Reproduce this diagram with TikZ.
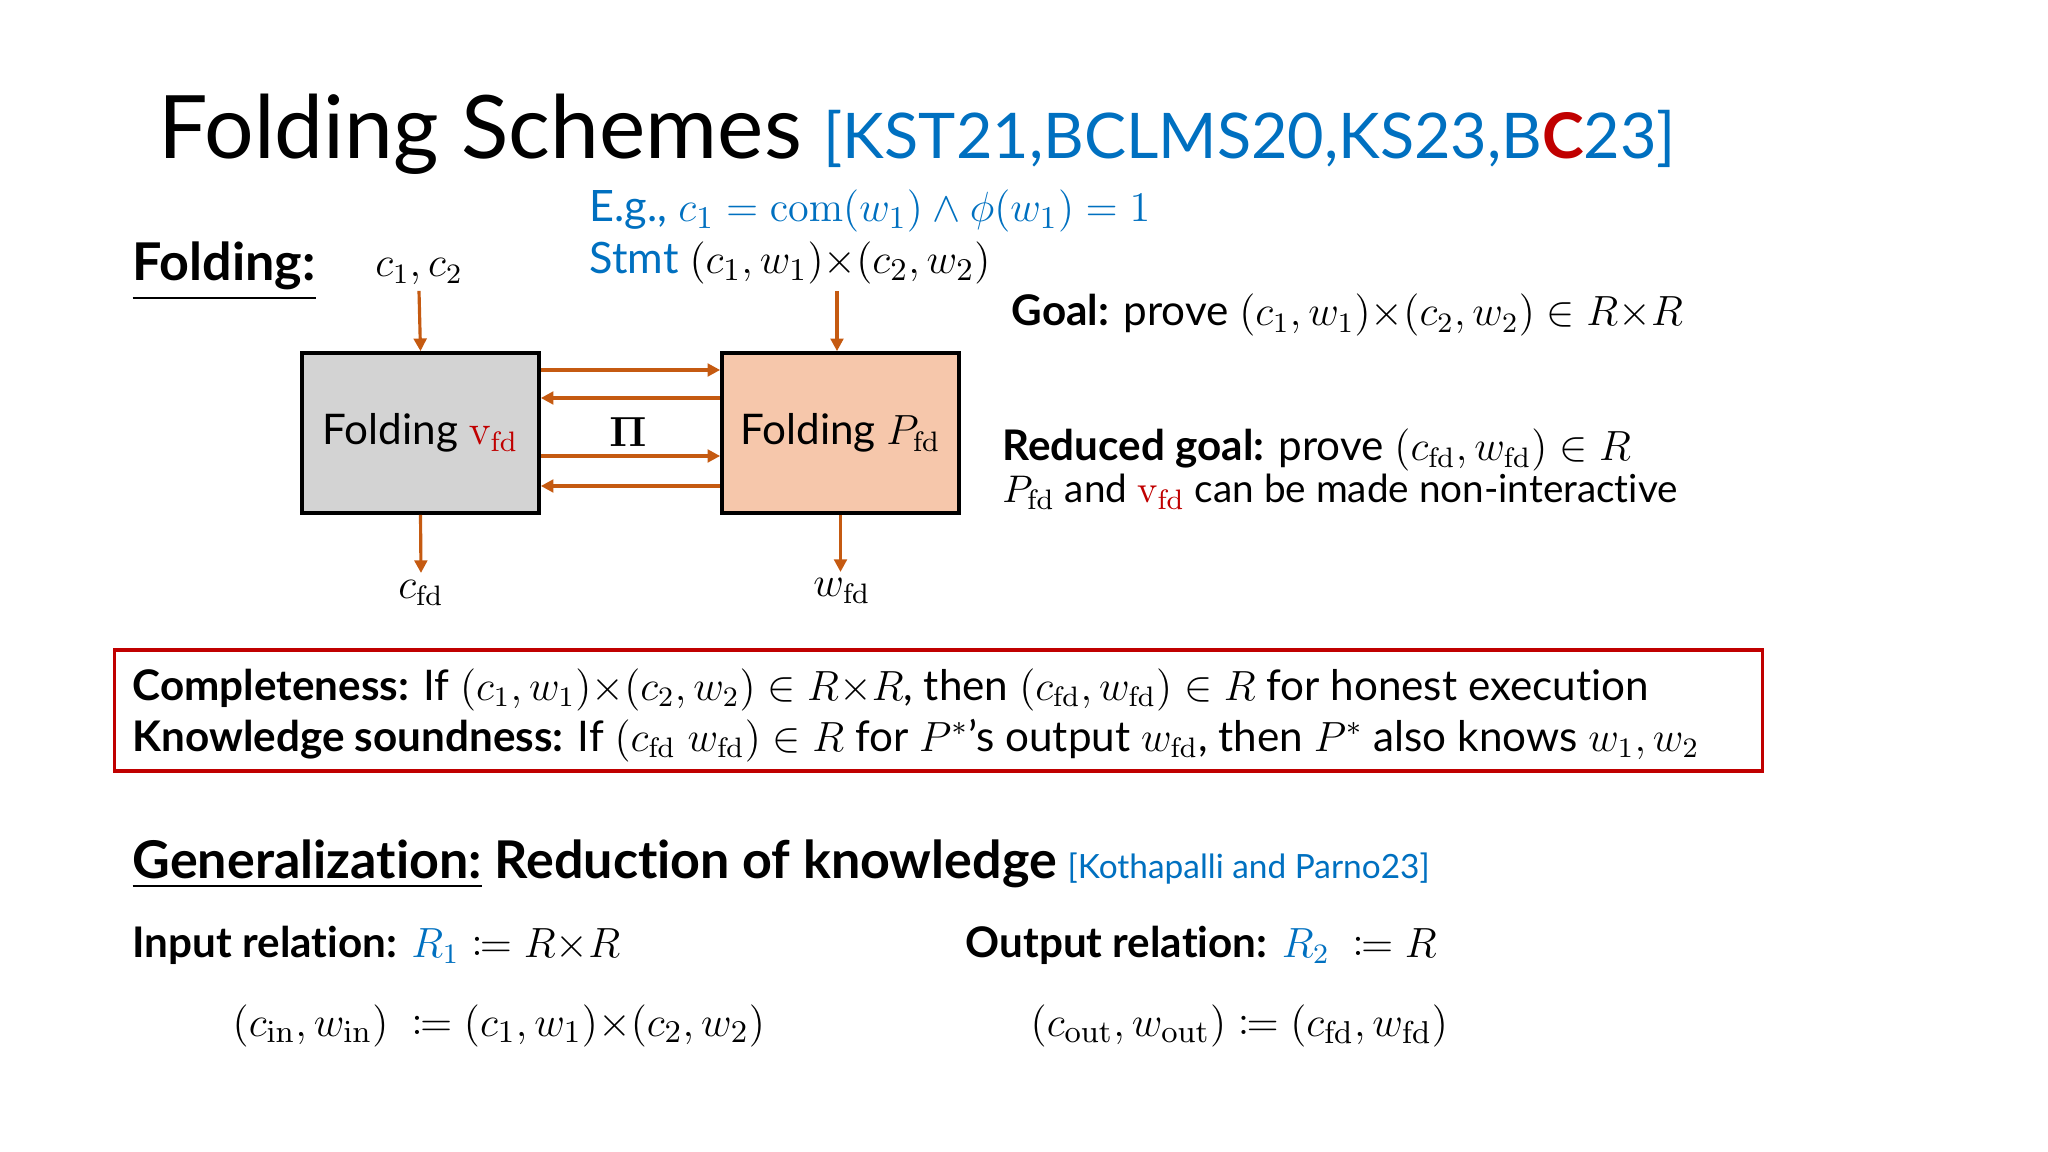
\documentclass[tikz,border=0pt]{standalone}
\usepackage{amsmath, amssymb, mathtools}
\usepackage[no-math]{fontspec}
\setmainfont{Lato}[Ligatures=NoCommon]
\usetikzlibrary{arrows.meta, positioning}

\definecolor{citeblue}{HTML}{0070C0}
\definecolor{keyred}{HTML}{C00000}
\definecolor{flowbrown}{HTML}{C55A11}
\definecolor{proverfill}{HTML}{F6C7AB}
\definecolor{verifierfill}{HTML}{D3D3D3}

\newcommand{\titlesize}{\fontsize{24.9}{30}\selectfont}
\newcommand{\citesize}{\fontsize{17.9}{22}\selectfont}
\newcommand{\headsize}{\fontsize{14.8}{18}\selectfont}
\newcommand{\bodysize}{\fontsize{12}{14}\selectfont}
\newcommand{\mathsize}{\fontsize{12.6}{15}\selectfont}
\newcommand{\notesize}{\fontsize{11}{13}\selectfont}
\newcommand{\smallcite}{\fontsize{9.5}{11}\selectfont}
\newcommand{\fd}{\mathrm{fd}}
\newcommand{\vfd}{\textcolor{keyred}{\mathrm{v}_{\fd}}}

\tikzset{
    txt/.style={anchor=base west, inner sep=0pt, font=\bodysize},
    party/.style={draw=black, line width=1pt, minimum width=2.37cm, minimum height=1.6cm, inner sep=0pt, font=\bodysize},
    flow/.style={draw=flowbrown, line width=0.9pt, -{Triangle[length=3.6pt, width=3.6pt]}},
    propbox/.style={draw=keyred, line width=1.1pt, minimum width=16.47cm, minimum height=1.21cm, inner sep=0pt}
}

\begin{document}
\begin{tikzpicture}[x=0.01cm, y=-0.01cm]
    \useasboundingbox (0,0) rectangle (2048,1152);

    % title
    \node[txt, font=\titlesize] (title) at (158,159) {Folding Schemes};
    \node[txt, font=\citesize, text=citeblue] (cites) at (823,159) {[KST21,BCLMS20,KS23,B\textcolor{keyred}{\textbf{C}}23]};

    % folding picture
    \node[txt, font=\headsize\bfseries] (foldhead) at (132,281) {\underline{Folding:}};
    \node[anchor=base, inner sep=0pt, font=\bodysize] (c12) at (419,277) {$c_1, c_2$};
    \node[txt, font=\fontsize{12.3}{14}\selectfont, text=citeblue] (eg) at (589,222) {E.g., $c_1 = \mathrm{com}(w_1) \wedge \phi(w_1) = 1$};
    \node[txt, font=\fontsize{12.3}{14}\selectfont] (stmt) at (589,274) {\textcolor{citeblue}{Stmt} $(c_1,w_1){\times}(c_2,w_2)$};

    \node[party, fill=verifierfill] (verifier) at (420.5,433) {Folding $\vfd$};
    \node[party, fill=proverfill] (prover) at (840.5,433) {Folding $P_{\fd}$};
    \node[inner sep=0pt, font=\bodysize] (pi) at (628,432) {$\boldsymbol{\Pi}$};

    \foreach \dy in {63,-23} {
        \draw[flow] ([yshift=\dy*0.01cm]verifier.east) -- ([yshift=\dy*0.01cm]prover.west);
    }
    \foreach \dy in {35,-53} {
        \draw[flow] ([yshift=\dy*0.01cm]prover.west) -- ([yshift=\dy*0.01cm]verifier.east);
    }

    \draw[flow] ([yshift=-0.05cm]c12.south) -- (verifier.north);
    \coordinate (stmtout) at (837,291);
    \draw[flow] (stmtout) -- (stmtout |- prover.north);

    \node[anchor=north, inner sep=0pt, font=\bodysize] (cfd) at (421,580) {$c_{\fd}$};
    \node[anchor=north, inner sep=0pt, font=\bodysize] (wfd) at (842,578) {$w_{\fd}$};
    \draw[flow] (verifier.south) -- ([yshift=0.07cm]cfd.north);
    \coordinate (wfdtop) at ([yshift=0.06cm]wfd.north);
    \draw[flow] (prover.south) -- (prover.south |- wfdtop);

    % goals
    \node[txt] (goal) at (1011,326) {\textbf{Goal:} prove $(c_1,w_1){\times}(c_2,w_2) \in R{\times}R$};
    \node[txt] (reduced) at (1002,461) {\textbf{Reduced goal:} prove $(c_{\fd}, w_{\fd}) \in R$};
    \node[txt, font=\notesize] (noninter) at (1002,503) {$P_{\fd}$ and $\vfd$ can be made non-interactive};

    % properties
    \node[propbox] (props) at (938.5,710.5) {};
    \node[txt] (complete) at (132,700) {\textbf{Completeness:} If $(c_1,w_1){\times}(c_2,w_2) \in R{\times}R$, then $(c_{\fd},w_{\fd}) \in R$ for honest execution};
    \node[txt] (sound) at (132,751) {\textbf{Knowledge soundness:} If $(c_{\fd}\;w_{\fd}) \in R$ for $P^*$'s output $w_{\fd}$, then $P^*$ also knows $w_1, w_2$};

    % generalization
    \node[txt, font=\headsize\bfseries] (gen) at (132,878) {\underline{Generalization:} Reduction of knowledge};
    \node[txt, font=\smallcite, text=citeblue] (kp) at (1067,878) {[Kothapalli and Parno23]};
    \node[txt] (inrel) at (132,957) {\textbf{Input relation:} $\textcolor{citeblue}{R_1} \coloneqq R{\times}R$};
    \node[txt] (outrel) at (965,957) {\textbf{Output relation:} $\textcolor{citeblue}{R_2}\ \coloneqq R$};
    \node[txt, font=\mathsize] (inst) at (232,1036) {$(c_{\mathrm{in}}, w_{\mathrm{in}})\ \coloneqq (c_1,w_1){\times}(c_2,w_2)$};
    \node[txt, font=\mathsize] (outinst) at (1030,1036) {$(c_{\mathrm{out}}, w_{\mathrm{out}}) \coloneqq (c_{\fd}, w_{\fd})$};
\end{tikzpicture}
\end{document}
